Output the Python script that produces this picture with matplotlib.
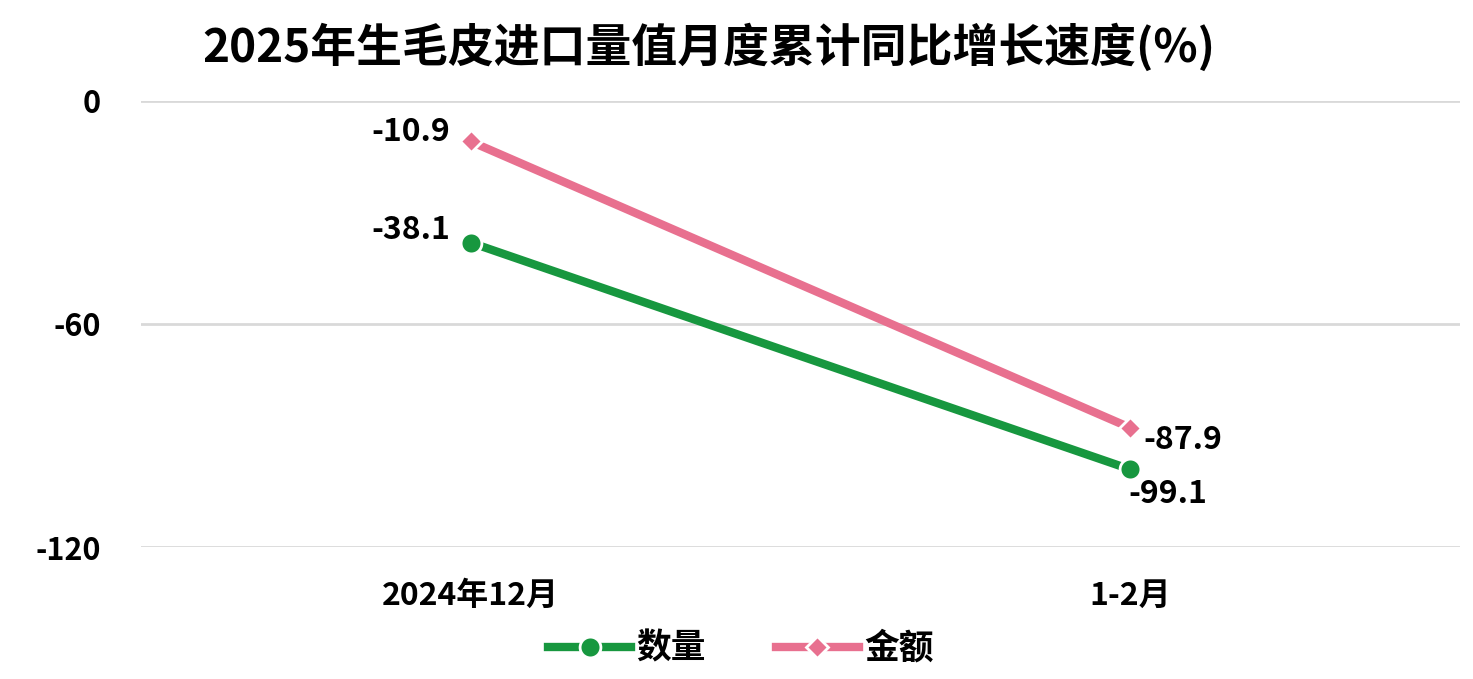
import matplotlib
matplotlib.use("Agg")
import matplotlib.pyplot as plt

categories = ["2024年12月", "1-2月"]
quantity = [-38.1, -99.1]
amount = [-10.9, -87.9]
yticks = [0, -60, -120]
title = "2025年生毛皮进口量值月度累计同比增长速度(%)"

plt.rcParams['font.family'] = ['Noto Sans CJK SC', 'DejaVu Sans']
plt.rcParams['font.weight'] = 'bold'

fig = plt.figure(figsize=(14.73, 6.79), dpi=100)
ax = fig.add_axes([0.0957, 0.1944, 0.8953, 0.6569])

x = list(range(len(categories)))
green = "#17973F"
pink = "#E8708F"
ax.plot(x, quantity, color=green, lw=6, marker='o', markersize=15,
        markeredgecolor='white', markeredgewidth=2, label="数量", zorder=3)
ax.plot(x, amount, color=pink, lw=6, marker='D', markersize=11,
        markeredgecolor='white', markeredgewidth=2, label="金额", zorder=3)

ax.set_xlim(-0.5, 1.5)
ax.set_ylim(-120, 0)
ax.set_yticks(yticks)
ax.set_yticklabels([str(v) for v in yticks])
ax.set_xticks(x)
ax.set_xticklabels(categories)
ax.tick_params(axis='y', length=0, labelsize=22, pad=29)
ax.tick_params(axis='x', length=0, labelsize=23, pad=24)
for lab in ax.get_xticklabels() + ax.get_yticklabels():
    lab.set_fontweight('bold')
ax.grid(axis='y', color='#D9D9D9', lw=2)
ax.set_axisbelow(True)
for s in ax.spines.values():
    s.set_visible(False)

# data labels
lab_kw = dict(textcoords='offset points', ha='center', va='center', fontsize=23, fontweight='bold')
ax.annotate(f"{amount[0]}", (x[0], amount[0]), xytext=(-43, 7), **lab_kw)
ax.annotate(f"{quantity[0]}", (x[0], quantity[0]), xytext=(-43, 9), **lab_kw)
ax.annotate(f"{amount[1]}", (x[1], amount[1]), xytext=(38, -9), **lab_kw)
ax.annotate(f"{quantity[1]}", (x[1], quantity[1]), xytext=(27, -18), **lab_kw)

fig.text(0.481, 0.93, title, ha='center', va='center', fontsize=33, fontweight='bold')

leg = fig.legend(loc='center', bbox_to_anchor=(0.503, 0.045), ncol=2, frameon=False,
                 fontsize=25, handlelength=2.4, columnspacing=2.0, handletextpad=0.15)
for t in leg.get_texts():
    t.set_fontweight('bold')

fig.savefig("out.png", dpi=100)
